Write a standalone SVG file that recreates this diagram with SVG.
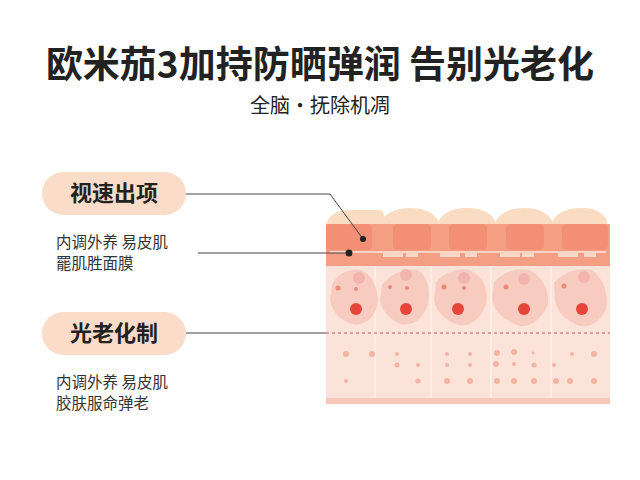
<svg xmlns="http://www.w3.org/2000/svg" width="640" height="480" viewBox="0 0 640 480">
<style>
text{font-family:"Noto Sans CJK SC","Noto Sans",sans-serif;fill:#222}
.pill{fill:#fadcc9}
.h{font-size:22px;font-weight:bold;text-anchor:middle}
.b{font-size:15.5px;fill:#333}
.ln{stroke:#444;stroke-width:1;fill:none}
.dome{fill:#fadcc3}
.top{fill:#f49f84}
.cap{fill:#f28f74}
.blob{fill:#f7cbc0}
.nuc{fill:#e6463a}
.sd{fill:#ec8a78}
.pd{fill:#f3b4a2}
</style>
<rect width="640" height="480" fill="#fff"/>
<text x="320" y="78" font-size="37" font-weight="bold" text-anchor="middle" fill="#111">欧米茄3加持防晒弹润 告别光老化</text>
<text x="320" y="113" font-size="20" text-anchor="middle" fill="#555">全脑·抚除机凋</text>
<g id="tissue">
<path class="dome" d="M326 225 Q330 210 350 210 L380 210 Q384 210 386 225 Z"/>
<g class="dome">
<path d="M380 225 Q386 208 410 208 Q434 208 440 225 Z"/>
<path d="M437 225 Q443 208 467 208 Q491 208 497 225 Z"/>
<path d="M494 225 Q500 208 524 208 Q548 208 554 225 Z"/>
<path d="M551 225 Q557 208 581 208 Q605 208 608 225 Z"/>
</g>
<rect class="top" x="326" y="224" width="284" height="42"/>
<g class="cap">
<rect x="326" y="224" width="46" height="26" rx="4"/>
<rect x="393" y="224" width="38" height="26" rx="5"/>
<rect x="449" y="224" width="38" height="26" rx="5"/>
<rect x="506" y="224" width="38" height="26" rx="5"/>
<rect x="562" y="224" width="46" height="26" rx="5"/>
</g>
<rect x="330" y="251" width="276" height="2" fill="#fbd3c4"/>
<g fill="#fbd8c8"><rect x="383" y="253" width="20" height="4"/><rect x="406" y="253" width="12" height="4"/><rect x="440" y="253" width="20" height="4"/><rect x="465" y="253" width="12" height="4"/><rect x="500" y="253" width="20" height="4"/><rect x="522" y="253" width="12" height="4"/><rect x="558" y="253" width="20" height="4"/><rect x="584" y="253" width="12" height="4"/></g>
<rect x="326" y="266" width="284" height="132" fill="#fce3da"/>
<g stroke="#fdf0ea" stroke-width="1.5"><line x1="375" y1="266" x2="375" y2="398"/><line x1="431" y1="266" x2="431" y2="398"/><line x1="491" y1="266" x2="491" y2="398"/><line x1="551" y1="266" x2="551" y2="398"/></g>
<g class="blob">
<path d="M332 285 Q340 268 360 270 Q376 275 378 300 Q376 322 356 325 Q334 320 330 300 Z"/>
<path d="M382 285 Q395 268 418 270 Q432 280 428 305 Q418 328 400 324 Q382 315 380 300 Z"/>
<path d="M436 282 Q450 267 470 270 Q490 280 486 305 Q476 328 458 325 Q438 318 434 300 Z"/>
<path d="M494 282 Q510 266 530 270 Q550 282 548 305 Q536 328 520 326 Q496 318 492 300 Z"/>
<path d="M554 282 Q570 266 592 270 Q610 285 606 310 Q596 328 580 326 Q558 318 555 300 Z"/>
</g>
<g fill="#f2b5ae"><circle cx="359" cy="278" r="6"/><circle cx="406" cy="275" r="6"/><circle cx="464" cy="278" r="6"/><circle cx="524" cy="279" r="6"/><circle cx="584" cy="277" r="6"/></g>
<g class="sd"><circle cx="338" cy="288" r="2.5"/><circle cx="356" cy="289" r="2"/><circle cx="390" cy="287" r="2"/><circle cx="407" cy="288" r="2"/><circle cx="444" cy="287" r="2.5"/><circle cx="464" cy="288" r="2"/><circle cx="506" cy="287" r="2.5"/><circle cx="564" cy="286" r="2.5"/></g>
<g class="nuc"><circle cx="356" cy="309" r="6"/><circle cx="406" cy="309" r="6"/><circle cx="458" cy="309" r="6"/><circle cx="524" cy="309" r="6"/><circle cx="582" cy="309" r="6"/></g>
<line x1="326" y1="333" x2="610" y2="333" stroke="#b06060" stroke-width="1.2" stroke-dasharray="3,3"/>
<g class="pd"><circle cx="346" cy="354" r="3"/><circle cx="372" cy="354" r="3"/><circle cx="397" cy="354" r="2"/><circle cx="447" cy="354" r="2"/><circle cx="470" cy="354" r="2"/><circle cx="497" cy="353" r="3"/><circle cx="514" cy="352" r="3"/><circle cx="533" cy="353" r="1.5"/><circle cx="572" cy="354" r="2"/><circle cx="594" cy="354" r="3"/><circle cx="397" cy="365" r="2.5"/><circle cx="418" cy="365" r="2"/><circle cx="447" cy="365" r="2"/><circle cx="470" cy="365" r="2"/><circle cx="496" cy="364" r="3"/><circle cx="514" cy="364" r="2"/><circle cx="534" cy="365" r="2.5"/><circle cx="554" cy="365" r="2"/><circle cx="346" cy="381" r="2"/><circle cx="418" cy="381" r="2.5"/><circle cx="447" cy="381" r="3"/><circle cx="470" cy="381" r="3"/><circle cx="497" cy="381" r="3"/><circle cx="514" cy="381" r="3"/><circle cx="534" cy="381" r="3"/><circle cx="556" cy="381" r="3"/><circle cx="570" cy="381" r="3"/><circle cx="594" cy="381" r="3"/></g>
<rect x="326" y="398" width="284" height="6" fill="#f8c9b8"/>
</g>
<g id="label1"><rect class="pill" x="42" y="172" width="144" height="43" rx="21.5"/><text class="h" x="114" y="201">视速出项</text>
<text class="b" x="56" y="248">内调外养 易皮肌</text><text class="b" x="56" y="269">罷肌胜面膜</text></g>
<g id="label2"><rect class="pill" x="42" y="312" width="144" height="43" rx="21.5"/><text class="h" x="114" y="341">光老化制</text>
<text class="b" x="56" y="388">内调外养 易皮肌</text><text class="b" x="56" y="409">胶肤服命弹老</text></g>
<g id="connectors">
<polyline class="ln" points="186,194 330,194 363,239"/>
<circle cx="363" cy="239" r="3" fill="#222"/>
<line class="ln" x1="198" y1="253" x2="349" y2="253"/>
<circle cx="349" cy="253" r="3.5" fill="#222"/>
<line class="ln" x1="186" y1="333" x2="326" y2="333"/>
</g>
</svg>
